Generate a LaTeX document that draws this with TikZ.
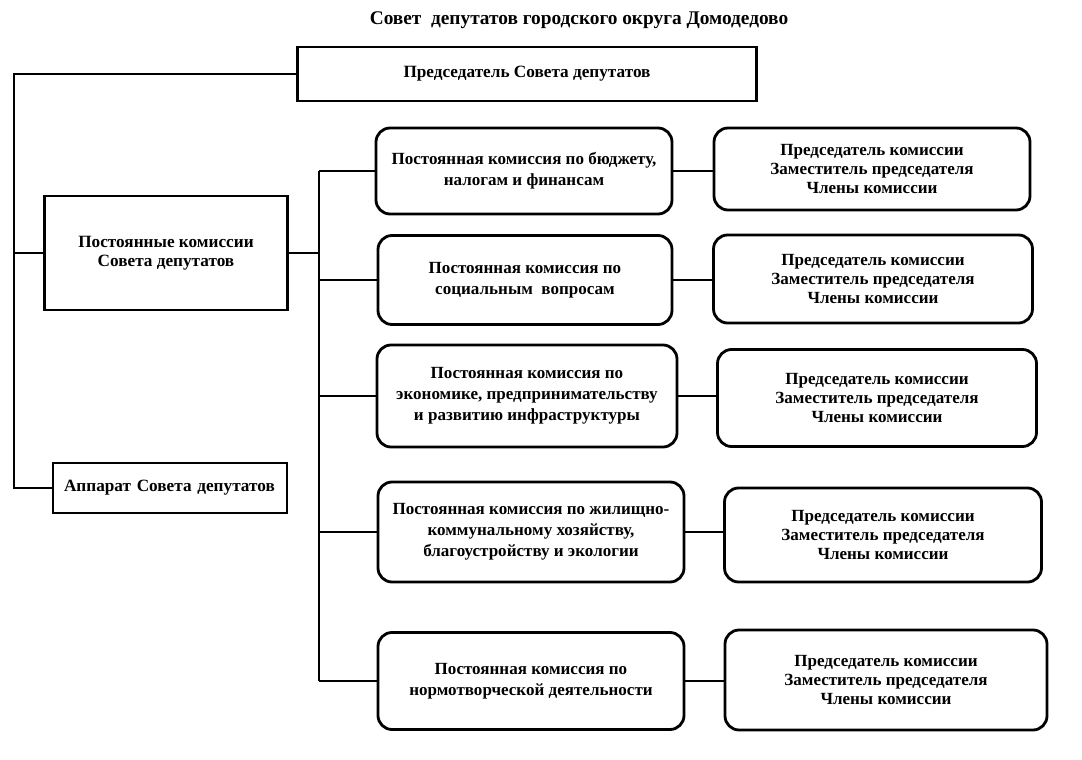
\documentclass[tikz,border=0pt]{standalone}
\usepackage{fontspec}
\setmainfont{Liberation Serif}
\usetikzlibrary{positioning,calc}
\newlength{\px}
\setlength{\px}{0.02cm}
\tikzset{
  sqbox/.style={draw=black,line width=1.6pt,align=center,inner sep=2pt,fill=white,
    font=\fontsize{9.8pt}{11pt}\selectfont\bfseries},
  kbox/.style={sqbox,rounded corners=8pt,font=\fontsize{9.7pt}{12pt}\selectfont\bfseries},
  sbox/.style={sqbox,rounded corners=8pt,font=\fontsize{9.7pt}{10.8pt}\selectfont\bfseries},
  link/.style={draw=black,line width=0.6pt},
  ttl/.style={font=\fontsize{11pt}{12pt}\selectfont\bfseries}
}
\begin{document}
\begin{tikzpicture}[x=\px,y=-\px]
  \useasboundingbox (0,0) rectangle (1082,760);
  % title
  \node[ttl] (title) at (579,20) {Совет~ депутатов городского округа Домодедово};

  % top level
  \node[sqbox,minimum width=459\px,minimum height=54\px] (pred) at (527,74) {Председатель Совета депутатов};
  \node[sqbox,minimum width=243\px,minimum height=114\px] (komis) at (166,253) {Постоянные комиссии\\ Совета депутатов};
  \node[sqbox,minimum width=234\px,minimum height=50\px,text width=212\px,align=left] (apparat) at (170,488) {Аппарат Совета депутатов};

  % left trunk
  \coordinate (lt) at (14,0);
  \draw[link] (pred.west) -- (pred.west -| lt) -- (apparat.west -| lt) -- (apparat.west);
  \draw[link] (komis.west) -- (komis.west -| lt);

  % commissions
  \node[kbox,minimum width=296\px,minimum height=86\px] (k1) at (524,171) {Постоянная комиссия по бюджету,\\ налогам и финансам};
  \node[kbox,minimum width=294\px,minimum height=89\px] (k2) at (525,280) {Постоянная комиссия по\\ социальным~ вопросам};
  \node[kbox,minimum width=300\px,minimum height=102\px] (k3) at (527,396) {Постоянная комиссия по\\ экономике, предпринимательству\\ и развитию инфраструктуры};
  \node[kbox,minimum width=306\px,minimum height=100\px] (k4) at (531,532) {Постоянная комиссия по жилищно-\\ коммунальному хозяйству,\\ благоустройству и экологии};
  \node[kbox,minimum width=306\px,minimum height=97\px] (k5) at (531,681) {Постоянная комиссия по\\ нормотворческой деятельности};

  % right trunk
  \coordinate (rt) at (319,0);
  \draw[link] (komis.east) -- (komis.east -| rt);
  \draw[link] (k1.west -| rt) -- (k5.west -| rt);
  \draw[link] (k1.west) -- (k1.west -| rt);
  \draw[link] (k2.west) -- (k2.west -| rt);
  \draw[link] (k3.west) -- (k3.west -| rt);
  \draw[link] (k4.west) -- (k4.west -| rt);
  \draw[link] (k5.west) -- (k5.west -| rt);

  % members
  \node[sbox,minimum width=316\px,minimum height=82\px] (s1) at (872,169) {Председатель комиссии\\ Заместитель председателя\\ Члены комиссии};
  \node[sbox,minimum width=319\px,minimum height=88\px] (s2) at (873,279) {Председатель комиссии\\ Заместитель председателя\\ Члены комиссии};
  \node[sbox,minimum width=319\px,minimum height=97\px] (s3) at (877,398) {Председатель комиссии\\ Заместитель председателя\\ Члены комиссии};
  \node[sbox,minimum width=317\px,minimum height=94\px] (s4) at (883,535) {Председатель комиссии\\ Заместитель председателя\\ Члены комиссии};
  \node[sbox,minimum width=322\px,minimum height=100\px] (s5) at (886,680) {Председатель комиссии\\ Заместитель председателя\\ Члены комиссии};
  \draw[link] (k1.east) -- (k1.east -| s1.west);
  \draw[link] (k2.east) -- (k2.east -| s2.west);
  \draw[link] (k3.east) -- (k3.east -| s3.west);
  \draw[link] (k4.east) -- (k4.east -| s4.west);
  \draw[link] (k5.east) -- (k5.east -| s5.west);
\end{tikzpicture}
\end{document}
